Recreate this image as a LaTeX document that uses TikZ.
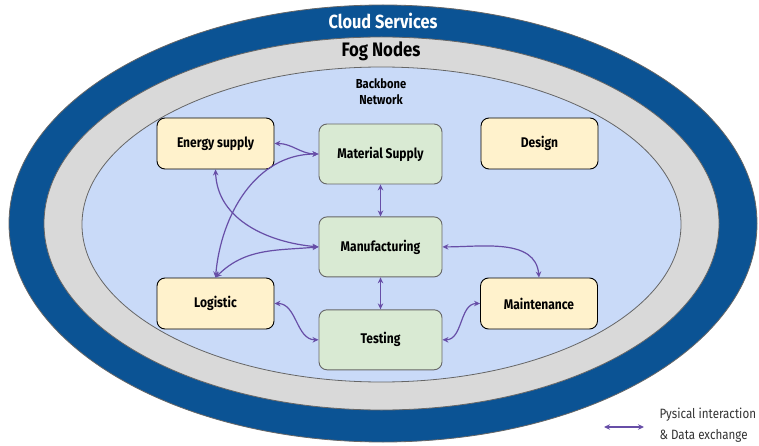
\documentclass[tikz,border=0pt]{standalone}
\usepackage{xcolor}
\usepackage{fontspec}
\setmainfont[FakeStretch=0.86]{Fira Sans}
\usepackage{tikz}
\usetikzlibrary{arrows.meta}
\usetikzlibrary{positioning}
\definecolor{cloudblue}{HTML}{0B5394}
\definecolor{foggray}{HTML}{D9D9D9}
\definecolor{netblue}{HTML}{C9DAF8}
\definecolor{procgreen}{HTML}{D9EAD3}
\definecolor{extyellow}{HTML}{FFF2CC}
\definecolor{linkpurple}{HTML}{674EA7}
\tikzstyle{dxarrow}= [line width=1.2pt, linkpurple, {Stealth[length=6pt,width=5.5pt]}-{Stealth[length=6pt,width=5.5pt]}]

\begin{document}
\begin{tikzpicture}[
		x=1pt, y=-1pt,
		node distance=32pt,
    procbox/.style={
    draw=black!60,fill=procgreen,rounded corners=8pt,line width=0.9pt,
    minimum width=123pt,minimum height=60pt,
    font=\fontsize{14}{16}\selectfont\bfseries
    },
    extbox/.style={
    draw=black,fill=extyellow,rounded corners=8pt,line width=0.9pt,
    minimum width=117pt,minimum height=51pt,
    font=\fontsize{14}{16}\selectfont\bfseries
    }
	]
  \useasboundingbox (0,0) rectangle (759,446);

  % layers
  \draw[fill=cloudblue,draw=black!60,line width=0.8pt] (383,223.5) ellipse [x radius=374pt, y radius=218.5pt];
  \draw[fill=foggray,draw=black!60,line width=0.8pt] (381.5,223.5) ellipse [x radius=337.5pt, y radius=186.5pt];
  \draw[fill=netblue,draw=black!60,line width=0.8pt] (381.5,224.5) ellipse [x radius=299.5pt, y radius=157.5pt];
  \node[white,font=\fontsize{19}{22}\selectfont\bfseries] (cloud) at (383,21) {Cloud Services};
  \node[font=\fontsize{19.5}{22}\selectfont\bfseries] (fog) at (381,51) {Fog Nodes};
  \node[align=center,font=\fontsize{13}{16}\selectfont\bfseries] (backbone) at (381,92) {Backbone\\Network};

  % boxes
  \node[procbox] (material) at (380.5,154) {Material Supply};
  \node[procbox,below=32pt of material] (manuf) {Manufacturing};
  \node[procbox,below=32pt of manuf] (testing) {Testing};
  \node[extbox] (energy) at (215.5,143.5) {Energy supply};
  \node[extbox] (design) at (539.5,143.5) {Design};
  \node[extbox] (logistic) at (215.5,303.5) {Logistic};
  \node[extbox] (maint) at (539,303.5) {Maintenance};

  % links
  \draw[dxarrow] (energy.east) to[out=0,in=180] (material.west);
  \draw[dxarrow] (energy.south) to[out=-88,in=175] (manuf.west);
  \draw[dxarrow] (material.west) to[out=180,in=85] (logistic.north);
  \draw[dxarrow] (manuf.west) to[out=185,in=45] (logistic.north);
  \draw[dxarrow] (material.south) -- (manuf.north);
  \draw[dxarrow] (manuf.south) -- (testing.north);
  \draw[dxarrow] (manuf.east) to[out=0,in=95] (maint.north);
  \draw[dxarrow] (logistic.east) to[out=0,in=180] (testing.west);
  \draw[dxarrow] (maint.west) to[out=180,in=0] (testing.east);

  % legend
  \coordinate (leg1) at (604,427);
  \coordinate (leg2) at (644,427);
  \draw[dxarrow] (leg1) -- (leg2);
  \node[anchor=west,align=left,text=black!80,font=\fontsize{13.5}{20.5}\selectfont] (legtext) at (656,425) {Pysical interaction\\\& Data exchange};
\end{tikzpicture}
\end{document}
